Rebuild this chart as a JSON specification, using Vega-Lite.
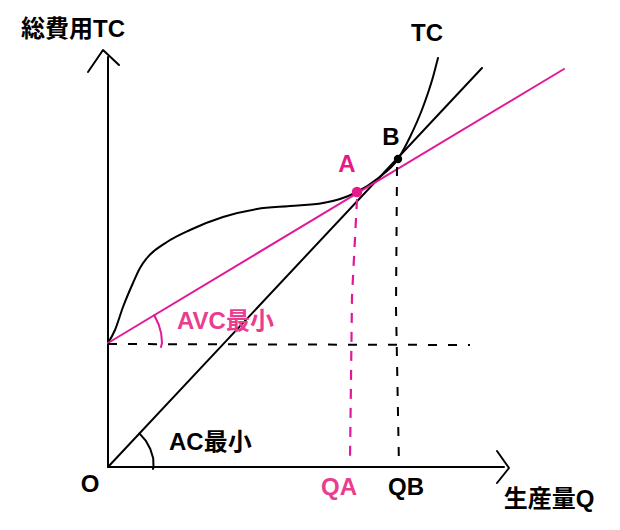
{
  "$schema": "https://vega.github.io/schema/vega-lite/v6.json",
  "width": 620,
  "height": 530,
  "padding": 0,
  "autosize": {"type": "fit", "contains": "padding"},
  "background": "white",
  "config": {"view": {"stroke": null}},
  "datasets": {
    "solid": [
      {"id": "yaxis", "i": 0, "x": 0, "y": 0},
      {"id": "yaxis", "i": 1, "x": 0, "y": 410},
      {"id": "yarrow", "i": 0, "x": -20, "y": 395},
      {"id": "yarrow", "i": 1, "x": -5, "y": 417},
      {"id": "yarrow", "i": 2, "x": 11, "y": 402},
      {"id": "xaxis", "i": 0, "x": 0, "y": 0},
      {"id": "xaxis", "i": 1, "x": 396, "y": 0},
      {"id": "xarrow", "i": 0, "x": 389, "y": 16},
      {"id": "xarrow", "i": 1, "x": 401, "y": -1},
      {"id": "xarrow", "i": 2, "x": 389, "y": -16},
      {"id": "AC", "i": 0, "x": 0, "y": 0},
      {"id": "AC", "i": 1, "x": 374, "y": 399},
      {"id": "ACarc", "i": 0, "x": 31.4, "y": 33.6},
      {"id": "ACarc", "i": 1, "x": 37.7, "y": 26.4},
      {"id": "ACarc", "i": 2, "x": 42.3, "y": 18.0},
      {"id": "ACarc", "i": 3, "x": 45.2, "y": 8.8},
      {"id": "ACarc", "i": 4, "x": 45.5, "y": 0},
      {"id": "ACarc", "i": 5, "x": 45, "y": -2}
    ],
    "tc": [
      {"i": 0, "x": 0, "y": 124},
      {"i": 1, "x": 7, "y": 137},
      {"i": 2, "x": 15, "y": 160},
      {"i": 3, "x": 25, "y": 184},
      {"i": 4, "x": 32, "y": 199},
      {"i": 5, "x": 39, "y": 209},
      {"i": 6, "x": 59, "y": 225},
      {"i": 7, "x": 82, "y": 237},
      {"i": 8, "x": 115, "y": 250},
      {"i": 9, "x": 149, "y": 258},
      {"i": 10, "x": 182, "y": 261},
      {"i": 11, "x": 215, "y": 264},
      {"i": 12, "x": 232, "y": 268},
      {"i": 13, "x": 249, "y": 275},
      {"i": 14, "x": 269, "y": 288},
      {"i": 15, "x": 290, "y": 308},
      {"i": 16, "x": 302, "y": 330},
      {"i": 17, "x": 315, "y": 360},
      {"i": 18, "x": 325, "y": 390},
      {"i": 19, "x": 330, "y": 409}
    ],
    "pink": [
      {"id": "AVC", "i": 0, "x": 0, "y": 124},
      {"id": "AVC", "i": 1, "x": 456, "y": 398},
      {"id": "AVCarc", "i": 0, "x": 46.3, "y": 151.8},
      {"id": "AVCarc", "i": 1, "x": 50.7, "y": 142.5},
      {"id": "AVCarc", "i": 2, "x": 53.2, "y": 133.4},
      {"id": "AVCarc", "i": 3, "x": 54, "y": 124},
      {"id": "AVCarc", "i": 4, "x": 53, "y": 120}
    ],
    "dashBlack": [
      {"id": "h", "i": 0, "x": 0, "y": 123},
      {"id": "h", "i": 1, "x": 362, "y": 122},
      {"id": "vB", "i": 0, "x": 289, "y": 300},
      {"id": "vB", "i": 1, "x": 288, "y": 160},
      {"id": "vB", "i": 2, "x": 291, "y": 0}
    ],
    "dashPink": [
      {"id": "vA", "i": 0, "x": 249, "y": 268},
      {"id": "vA", "i": 1, "x": 244, "y": 170},
      {"id": "vA", "i": 2, "x": 242, "y": 7}
    ],
    "points": [
      {"name": "A", "x": 249, "y": 275},
      {"name": "B", "x": 290, "y": 308}
    ],
    "labels": [
      {"t": "総費用TC", "g": "black", "x": -35, "y": 437, "a": "center"},
      {"t": "TC", "g": "black", "x": 319, "y": 433, "a": "center"},
      {"t": "B", "g": "black", "x": 283, "y": 329, "a": "center"},
      {"t": "A", "g": "pink", "x": 239, "y": 302, "a": "center"},
      {"t": "AVC最小", "g": "pinkL", "x": 69, "y": 145, "a": "left"},
      {"t": "AC最小", "g": "black", "x": 61, "y": 24, "a": "left"},
      {"t": "O", "g": "black", "x": -18, "y": -18, "a": "center"},
      {"t": "QA", "g": "pinkL", "x": 231, "y": -21, "a": "center"},
      {"t": "QB", "g": "black", "x": 298, "y": -21, "a": "center"},
      {"t": "生産量Q", "g": "black", "x": 441, "y": -33, "a": "center"}
    ]
  },
  "encoding": {
    "x": {"field": "x", "type": "quantitative", "scale": {"domain": [-108, 512]}, "axis": null},
    "y": {"field": "y", "type": "quantitative", "scale": {"domain": [-63, 467]}, "axis": null}
  },
  "layer": [
    {
      "data": {"name": "solid"},
      "mark": {"type": "line", "color": "black", "strokeWidth": 2, "strokeCap": "round", "strokeJoin": "round", "clip": false},
      "encoding": {"detail": {"field": "id"}, "order": {"field": "i", "type": "quantitative"}}
    },
    {
      "data": {"name": "tc"},
      "mark": {"type": "line", "color": "black", "strokeWidth": 2, "strokeCap": "round", "interpolate": "monotone"},
      "encoding": {"order": {"field": "i", "type": "quantitative"}}
    },
    {
      "data": {"name": "pink"},
      "mark": {"type": "line", "color": "#e0199a", "strokeWidth": 2, "strokeCap": "round"},
      "encoding": {"detail": {"field": "id"}, "order": {"field": "i", "type": "quantitative"}}
    },
    {
      "data": {"name": "dashBlack"},
      "mark": {"type": "line", "color": "black", "strokeWidth": 2, "strokeDash": [9, 11]},
      "encoding": {"detail": {"field": "id"}, "order": {"field": "i", "type": "quantitative"}}
    },
    {
      "data": {"name": "dashPink"},
      "mark": {"type": "line", "color": "#e0199a", "strokeWidth": 2.2, "strokeDash": [10, 9]},
      "encoding": {"detail": {"field": "id"}, "order": {"field": "i", "type": "quantitative"}}
    },
    {
      "data": {"name": "points"},
      "transform": [{"filter": "datum.name == 'A'"}],
      "mark": {"type": "point", "filled": true, "opacity": 1, "color": "#e6198a", "size": 110},
      "encoding": {}
    },
    {
      "data": {"name": "points"},
      "transform": [{"filter": "datum.name == 'B'"}],
      "mark": {"type": "point", "filled": true, "opacity": 1, "color": "black", "size": 70},
      "encoding": {}
    },
    {
      "data": {"name": "labels"},
      "transform": [{"filter": "datum.a == 'center' && datum.g == 'black'"}],
      "mark": {"type": "text", "font": "Liberation Sans, Noto Sans CJK JP", "fontSize": 24, "fontWeight": "bold", "align": "center", "baseline": "middle", "color": "black"},
      "encoding": {"text": {"field": "t"}}
    },
    {
      "data": {"name": "labels"},
      "transform": [{"filter": "datum.a == 'center' && datum.g == 'pink'"}],
      "mark": {"type": "text", "font": "Liberation Sans, Noto Sans CJK JP", "fontSize": 24, "fontWeight": "bold", "align": "center", "baseline": "middle", "color": "#e6198a"},
      "encoding": {"text": {"field": "t"}}
    },
    {
      "data": {"name": "labels"},
      "transform": [{"filter": "datum.a == 'center' && datum.g == 'pinkL'"}],
      "mark": {"type": "text", "font": "Liberation Sans, Noto Sans CJK JP", "fontSize": 24, "fontWeight": "bold", "align": "center", "baseline": "middle", "color": "#ea3d8f"},
      "encoding": {"text": {"field": "t"}}
    },
    {
      "data": {"name": "labels"},
      "transform": [{"filter": "datum.a == 'left' && datum.g == 'black'"}],
      "mark": {"type": "text", "font": "Liberation Sans, Noto Sans CJK JP", "fontSize": 24, "fontWeight": "bold", "align": "left", "baseline": "middle", "color": "black"},
      "encoding": {"text": {"field": "t"}}
    },
    {
      "data": {"name": "labels"},
      "transform": [{"filter": "datum.a == 'left' && datum.g == 'pinkL'"}],
      "mark": {"type": "text", "font": "Liberation Sans, Noto Sans CJK JP", "fontSize": 24, "fontWeight": "bold", "align": "left", "baseline": "middle", "color": "#ea3d8f"},
      "encoding": {"text": {"field": "t"}}
    }
  ]
}
